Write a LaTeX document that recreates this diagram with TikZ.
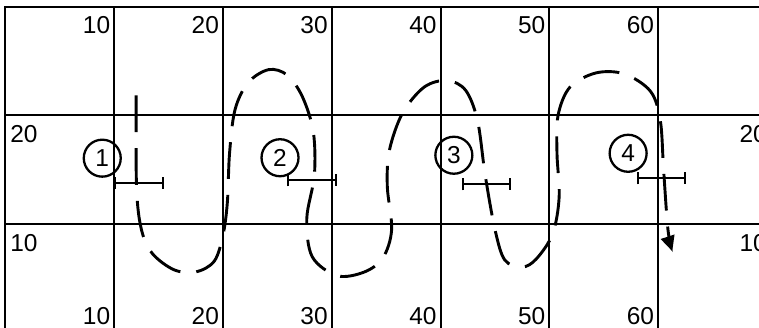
\documentclass[tikz,border=0pt]{standalone}
\usepackage{fontspec}
\setmainfont{Liberation Sans}
\usetikzlibrary{arrows.meta, positioning}
\tikzset{
  gridline/.style={line width=1.3pt, color=black},
  axislabel/.style={font=\fontsize{16}{19}\selectfont, inner sep=0pt},
  probe/.style={circle, draw, line width=1.5pt, minimum size=0.85cm,
    inner sep=0pt, font=\fontsize{16}{19}\selectfont},
  errbar/.style={{Bar[width=8pt]}-{Bar[width=8pt]}, line width=1.3pt},
  track/.style={line width=1.9pt, dash pattern=on 24pt off 10.5pt,
    -{Triangle[length=10pt, width=9pt]}}
}
\begin{document}
\begin{tikzpicture}[x=0.25cm, y=0.25cm]
  \useasboundingbox (-0.5,0.45) rectangle (69.27,30.6);

  % Grid and scale labels
  \draw[gridline] (0,0) -- (0,30) -- (70,30);
  \foreach \y in {10,20} {
    \draw[gridline] (0,\y) -- (70,\y);
    \node[axislabel, anchor=base west] (left\y) at (0.42,\y-2.5) {\y};
    \node[axislabel, anchor=base west] (right\y) at (67.46,\y-2.5) {\y};
  }
  \foreach \x in {10,20,...,60} {
    \draw[gridline] (\x,0) -- (\x,30);
    \node[axislabel, anchor=base east] (top\x) at (\x-0.35,27.5) {\x};
    \node[axislabel, anchor=base east] (bot\x) at (\x-0.35,0.73) {\x};
  }

  % Numbered stations
  \node[probe] (st1) at (8.9,16.06) {1};
  \node[probe] (st2) at (25.24,16.1) {2};
  \node[probe] (st3) at (41.22,16.33) {3};
  \node[probe] (st4) at (57.24,16.51) {4};

  % Error bars
  \draw[errbar] (10,13.76) -- ++(4.6,0);
  \draw[errbar] (25.86,14.04) -- ++(4.58,0);
  \draw[errbar] (41.95,13.67) -- ++(4.51,0);
  \draw[errbar] (58.07,14.22) -- ++(4.51,0);

  % Meandering track
  \draw[track] plot[smooth, tension=0.55] coordinates {
    (12.02,21.83) (12.05,13.4) (12.5,9.5) (13.5,7.3) (15.5,5.8) (17.5,5.6)
    (19.2,6.6) (20.0,9.0) (20.4,12) (20.6,16.5) (21.1,20.5) (22.3,23.0)
    (24.2,24.2) (25.9,23.7) (27.3,21.7) (28.3,18.5) (28.4,14.5) (27.7,10.5)
    (28.2,7.0) (30.5,5.25) (33.0,5.6) (34.7,6.9) (35.5,9.5) (35.1,13.5)
    (35.3,16.8) (36.5,20.2) (38.5,22.6) (40.6,23.2) (42.3,22.3) (43.4,19.5)
    (44.1,14.5) (45.0,9.5) (45.9,6.7) (47.5,6.05) (48.8,6.8) (50.3,9.1)
    (50.9,12.5) (50.7,16.5) (50.8,20.0) (51.9,22.6) (54.3,23.9) (56.9,23.8)
    (59.3,22.2) (60.2,19.5) (60.5,15) (60.9,9.5) (61.3,7.5)};
\end{tikzpicture}
\end{document}
